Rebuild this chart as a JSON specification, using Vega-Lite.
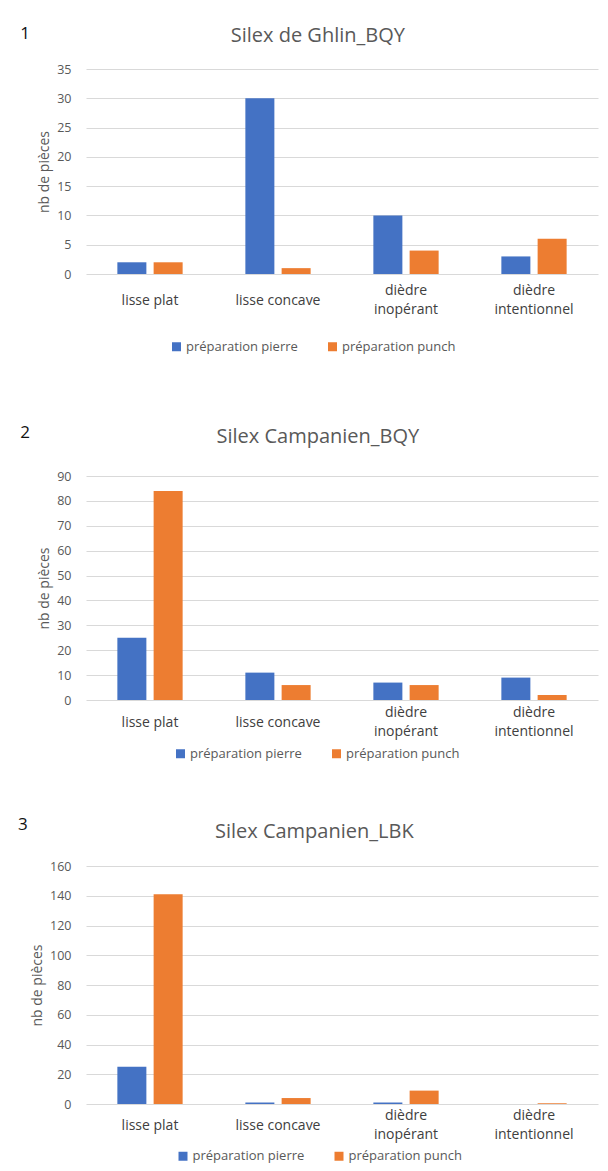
{
  "$schema": "https://vega.github.io/schema/vega-lite/v6.json",
  "background": "white",
  "padding": {"left": 18, "top": 24, "right": 5, "bottom": 5},
  "spacing": 53,
  "columns": 1,
  "align": "none",
  "datasets": {
    "p1": [
      {"type": "lisse plat", "prep": "préparation pierre", "n": 2},
      {"type": "lisse plat", "prep": "préparation punch", "n": 2},
      {"type": "lisse concave", "prep": "préparation pierre", "n": 30},
      {"type": "lisse concave", "prep": "préparation punch", "n": 1},
      {"type": "dièdre inopérant", "prep": "préparation pierre", "n": 10},
      {"type": "dièdre inopérant", "prep": "préparation punch", "n": 4},
      {"type": "dièdre intentionnel", "prep": "préparation pierre", "n": 3},
      {"type": "dièdre intentionnel", "prep": "préparation punch", "n": 6}
    ],
    "p2": [
      {"type": "lisse plat", "prep": "préparation pierre", "n": 25},
      {"type": "lisse plat", "prep": "préparation punch", "n": 84},
      {"type": "lisse concave", "prep": "préparation pierre", "n": 11},
      {"type": "lisse concave", "prep": "préparation punch", "n": 6},
      {"type": "dièdre inopérant", "prep": "préparation pierre", "n": 7},
      {"type": "dièdre inopérant", "prep": "préparation punch", "n": 6},
      {"type": "dièdre intentionnel", "prep": "préparation pierre", "n": 9},
      {"type": "dièdre intentionnel", "prep": "préparation punch", "n": 2}
    ],
    "p3": [
      {"type": "lisse plat", "prep": "préparation pierre", "n": 25},
      {"type": "lisse plat", "prep": "préparation punch", "n": 141},
      {"type": "lisse concave", "prep": "préparation pierre", "n": 1},
      {"type": "lisse concave", "prep": "préparation punch", "n": 4},
      {"type": "dièdre inopérant", "prep": "préparation pierre", "n": 1},
      {"type": "dièdre inopérant", "prep": "préparation punch", "n": 9},
      {"type": "dièdre intentionnel", "prep": "préparation pierre", "n": 0},
      {"type": "dièdre intentionnel", "prep": "préparation punch", "n": 0.5}
    ]
  },
  "config": {
    "font": "Open Sans",
    "view": {"stroke": null},
    "axisX": {
      "domain": false, "ticks": false, "grid": false,
      "labelFontSize": 14, "labelColor": "#404040", "labelAngle": 0,
      "labelBaseline": "middle", "labelLineHeight": 19, "labelLimit": 0,
      "labelExpr": "indexof(datum.label, 'dièdre') == 0 ? split(datum.label, ' ') : datum.label"
    },
    "axisY": {
      "domain": false, "ticks": false, "grid": true, "gridColor": "#D9D9D9",
      "labelFontSize": 12.5, "labelColor": "#595959", "labelPadding": 15,
      "titleFontSize": 14, "titleFontWeight": "normal", "titleColor": "#595959", "titlePadding": 5
    },
    "legend": {
      "orient": "none", "direction": "horizontal", "title": null,
      "symbolType": "square", "symbolSize": 81, "symbolStrokeWidth": 0,
      "labelFontSize": 13, "labelColor": "#595959", "columnPadding": 28, "labelOffset": 3
    },
    "title": {"fontSize": 20, "color": "#595959", "fontWeight": "normal", "anchor": "middle", "frame": "bounds"}
  },
  "resolve": {
    "scale": {"x": "independent", "y": "independent", "xOffset": "independent", "color": "independent"},
    "legend": {"color": "independent"}
  },
  "concat": [
    {
      "title": {"text": "1", "orient": "left", "angle": 0, "anchor": "end", "frame": "bounds", "baseline": "top", "align": "right", "fontSize": 17, "color": "#111111", "offset": -2},
      "resolve": {"scale": {"color": "independent"}, "legend": {"color": "independent"}},
      "vconcat": [
        {
          "title": {"text": "Silex de Ghlin_BQY", "offset": 17.5},
          "width": 512, "height": 205,
          "data": {"name": "p1"},
          "mark": {"type": "bar"},
          "encoding": {
            "x": {"field": "type", "type": "nominal", "sort": ["lisse plat", "lisse concave", "dièdre inopérant", "dièdre intentionnel"], "scale": {"paddingInner": 0.49, "paddingOuter": 0.245}, "axis": {"title": null, "labelPadding": {"condition": {"test": "indexof(datum.label, 'dièdre') == 0", "value": 16}, "value": 26}}},
            "xOffset": {"field": "prep", "type": "nominal", "sort": ["préparation pierre", "préparation punch"], "scale": {"paddingInner": 0.2, "paddingOuter": 0}},
            "y": {"field": "n", "type": "quantitative", "scale": {"domain": [0, 35], "nice": false}, "axis": {"title": "nb de pièces", "values": [0, 5, 10, 15, 20, 25, 30, 35]}},
            "color": {"field": "prep", "type": "nominal", "scale": {"domain": ["préparation pierre", "préparation punch"], "range": ["#4472C4", "#ED7D31"]}, "legend": {"legendX": 68, "legendY": 255, "padding": 16}}
          }
        }
      ]
    },
    {
      "title": {"text": "2", "orient": "left", "angle": 0, "anchor": "end", "frame": "bounds", "baseline": "top", "align": "right", "fontSize": 17, "color": "#111111", "offset": -2, "dy": -2},
      "resolve": {"scale": {"color": "independent"}, "legend": {"color": "independent"}},
      "vconcat": [
        {
          "title": {"text": "Silex Campanien_BQY", "offset": 23.5},
          "width": 512, "height": 224,
          "data": {"name": "p2"},
          "mark": {"type": "bar"},
          "encoding": {
            "x": {"field": "type", "type": "nominal", "sort": ["lisse plat", "lisse concave", "dièdre inopérant", "dièdre intentionnel"], "scale": {"paddingInner": 0.49, "paddingOuter": 0.245}, "axis": {"title": null, "labelPadding": {"condition": {"test": "indexof(datum.label, 'dièdre') == 0", "value": 12}, "value": 22}}},
            "xOffset": {"field": "prep", "type": "nominal", "sort": ["préparation pierre", "préparation punch"], "scale": {"paddingInner": 0.2, "paddingOuter": 0}},
            "y": {"field": "n", "type": "quantitative", "scale": {"domain": [0, 90], "nice": false}, "axis": {"title": "nb de pièces", "values": [0, 10, 20, 30, 40, 50, 60, 70, 80, 90]}},
            "color": {"field": "prep", "type": "nominal", "scale": {"domain": ["préparation pierre", "préparation punch"], "range": ["#4472C4", "#ED7D31"]}, "legend": {"legendX": 86, "legendY": 269, "padding": 2}}
          }
        }
      ]
    },
    {
      "title": {"text": "3", "orient": "left", "angle": 0, "anchor": "end", "frame": "bounds", "baseline": "top", "align": "right", "fontSize": 17, "color": "#111111", "offset": -7, "dy": -5},
      "resolve": {"scale": {"color": "independent"}, "legend": {"color": "independent"}},
      "vconcat": [
        {
          "title": {"text": "Silex Campanien_LBK", "offset": 18},
          "width": 512, "height": 238,
          "data": {"name": "p3"},
          "mark": {"type": "bar"},
          "encoding": {
            "x": {"field": "type", "type": "nominal", "sort": ["lisse plat", "lisse concave", "dièdre inopérant", "dièdre intentionnel"], "scale": {"paddingInner": 0.49, "paddingOuter": 0.245}, "axis": {"title": null, "labelPadding": {"condition": {"test": "indexof(datum.label, 'dièdre') == 0", "value": 11}, "value": 21}}},
            "xOffset": {"field": "prep", "type": "nominal", "sort": ["préparation pierre", "préparation punch"], "scale": {"paddingInner": 0.2, "paddingOuter": 0}},
            "y": {"field": "n", "type": "quantitative", "scale": {"domain": [0, 160], "nice": false}, "axis": {"title": "nb de pièces", "values": [0, 20, 40, 60, 80, 100, 120, 140, 160]}},
            "color": {"field": "prep", "type": "nominal", "scale": {"domain": ["préparation pierre", "préparation punch"], "range": ["#4472C4", "#ED7D31"]}, "legend": {"legendX": 90.5, "legendY": 283.5, "padding": 0}}
          }
        }
      ]
    }
  ]
}
